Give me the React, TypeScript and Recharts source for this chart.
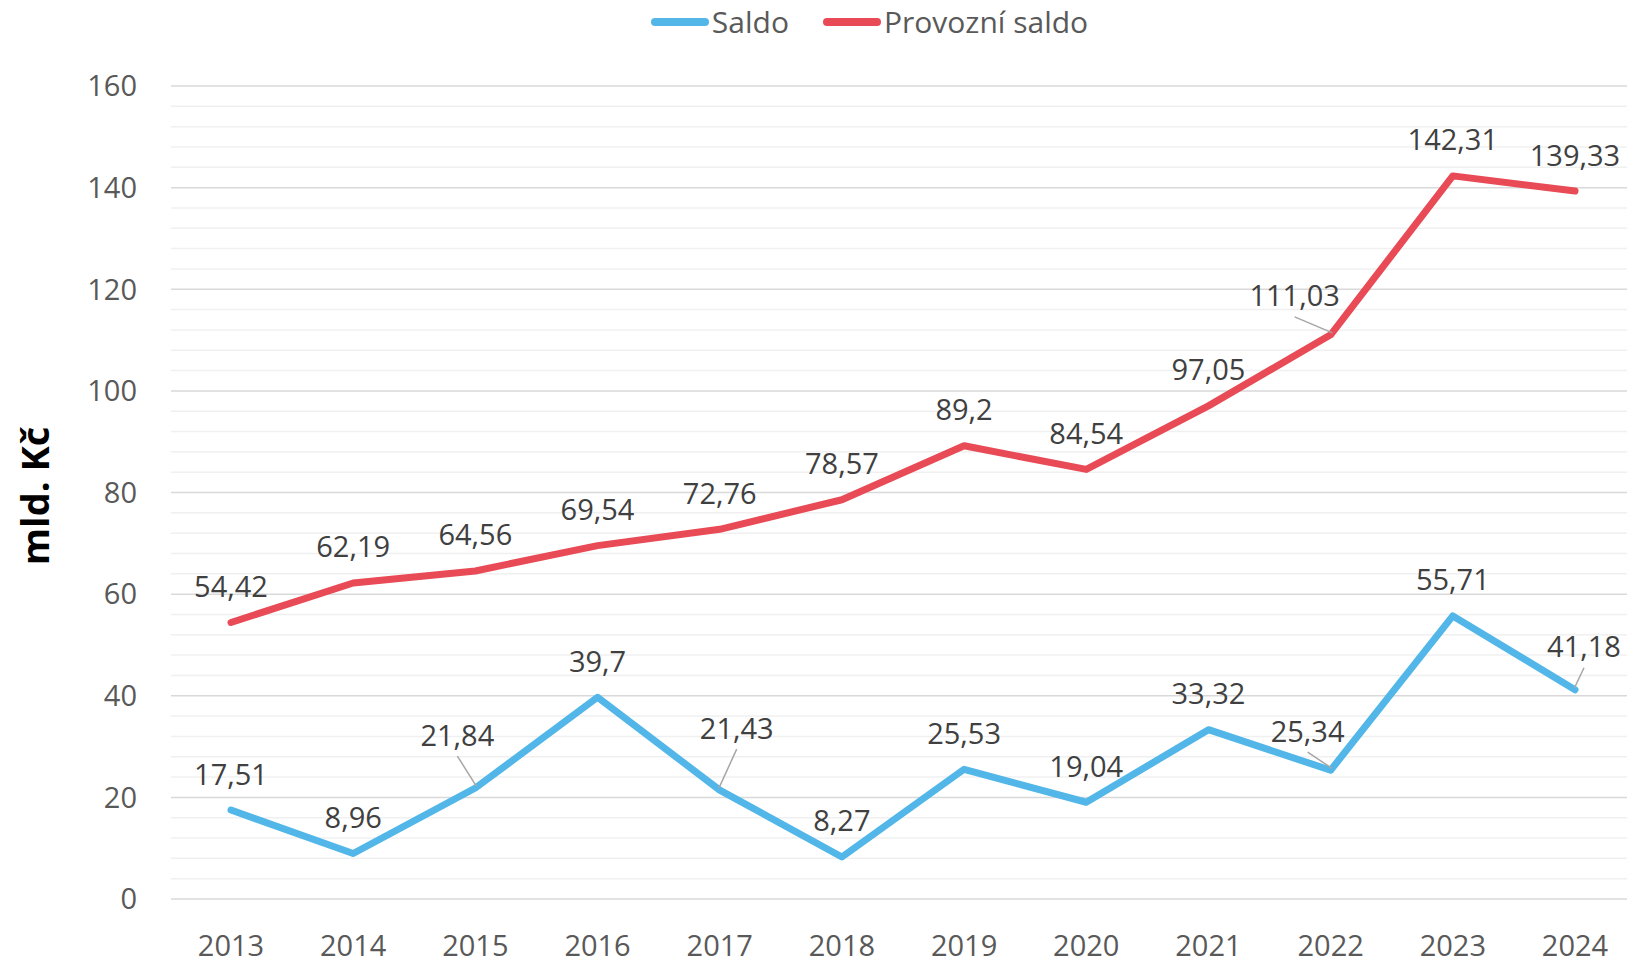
import { LineChart, Line, XAxis, YAxis, CartesianGrid, ReferenceLine, LabelList } from 'recharts'

const YEARS = ['2013', '2014', '2015', '2016', '2017', '2018', '2019', '2020', '2021', '2022', '2023', '2024']
const SALDO = [17.51, 8.96, 21.84, 39.7, 21.43, 8.27, 25.53, 19.04, 33.32, 25.34, 55.71, 41.18]
const PROVOZNI_SALDO = [54.42, 62.19, 64.56, 69.54, 72.76, 78.57, 89.2, 84.54, 97.05, 111.03, 142.31, 139.33]
const Y_TICKS = [0, 20, 40, 60, 80, 100, 120, 140, 160]

const BLUE = '#52b7e8'
const RED = '#e84a56'
const FONT = '"Open Sans", "Noto Sans", sans-serif'

const data = YEARS.map((year, i) => ({ year, saldo: SALDO[i], provozni: PROVOZNI_SALDO[i] }))

// minor gridlines between the major ticks (every 4)
const minorLines: number[] = []
for (let v = 0; v < 160; v += 20) {
  for (let k = 1; k < 5; k++) minorLines.push(v + k * 4)
}

// labels that Excel moved off their points, with a leader line
const LABEL_NUDGE: Record<string, [number, number]> = {
  'provozni-9': [-36, -40],
  'saldo-2': [-18, -54],
  'saldo-4': [17, -63],
  'saldo-9': [-23, -40],
  'saldo-11': [9, -44],
}

const fmt = (v: number) => String(v).replace('.', ',')

const makeLabel = (series: string) => (props: any) => {
  const { x, y, value, index } = props
  const nudge = LABEL_NUDGE[`${series}-${index}`]
  const [dx, dy] = nudge ?? [0, -37]
  const lx = x + dx
  const ly = y + dy
  return (
    <g key={`${series}-${index}`}>
      {nudge && (
        <line x1={lx} y1={ly + 22} x2={x - dx * 0.05} y2={y - 2} stroke="#a6a6a6" strokeWidth={1.5} />
      )}
      <text x={lx} y={ly} textAnchor="middle" dominantBaseline="central" fill="#404040" fontSize={29} fontFamily={FONT}>
        {fmt(value)}
      </text>
    </g>
  )
}

const LEGEND = [
  { name: 'Saldo', color: BLUE },
  { name: 'Provozní saldo', color: RED },
]

const App = () => {
  return (
    <div style={{ position: 'absolute', left: 0, top: 0, width: 1627, height: 963, overflow: 'hidden', background: '#fff', fontFamily: FONT }}>
      <div style={{ position: 'absolute', top: 2, left: 0, width: 1627, display: 'flex', justifyContent: 'center', gap: 34, paddingLeft: 112, boxSizing: 'border-box' }}>
        {LEGEND.map((item) => (
          <div key={item.name} style={{ display: 'flex', alignItems: 'center', gap: 3 }}>
            <div style={{ width: 58, height: 8, borderRadius: 4, background: item.color }} />
            <span style={{ fontSize: 30, color: '#595959', lineHeight: '40px' }}>{item.name}</span>
          </div>
        ))}
      </div>
      <LineChart width={1640} height={963} data={data} margin={{ top: 86, right: 4, left: 0, bottom: 0 }}>
        {minorLines.map((v) => (
          <ReferenceLine key={v} y={v} stroke="#f0f0f0" strokeWidth={1.5} />
        ))}
        <CartesianGrid vertical={false} stroke="#d9d9d9" strokeWidth={1.5} />
        <XAxis
          dataKey="year"
          height={64}
          padding={{ left: 60, right: 61 }}
          axisLine={false}
          tickLine={false}
          tickSize={0}
          tickMargin={36}
          tick={{ fill: '#595959', fontSize: 29, fontFamily: FONT }}
        />
        <YAxis
          width={171}
          domain={[0, 160]}
          ticks={Y_TICKS}
          axisLine={false}
          tickLine={false}
          tickSize={0}
          tickMargin={34}
          tick={{ fill: '#595959', fontSize: 29, fontFamily: FONT }}
          label={{
            content: () => (
              <text
                x={34}
                y={496}
                transform="rotate(-90 34 496)"
                textAnchor="middle"
                dominantBaseline="central"
                fontSize={38}
                fontWeight="bold"
                fill="#000"
                fontFamily={FONT}
              >
                mld. Kč
              </text>
            ),
          }}
        />
        <Line
          dataKey="saldo"
          name="Saldo"
          stroke={BLUE}
          strokeWidth={7}
          strokeLinecap="round"
          strokeLinejoin="round"
          dot={false}
          activeDot={false}
          isAnimationActive={false}
        >
          <LabelList dataKey="saldo" content={makeLabel('saldo')} />
        </Line>
        <Line
          dataKey="provozni"
          name="Provozní saldo"
          stroke={RED}
          strokeWidth={7}
          strokeLinecap="round"
          strokeLinejoin="round"
          dot={false}
          activeDot={false}
          isAnimationActive={false}
        >
          <LabelList dataKey="provozni" content={makeLabel('provozni')} />
        </Line>
      </LineChart>
    </div>
  )
}

export default App
